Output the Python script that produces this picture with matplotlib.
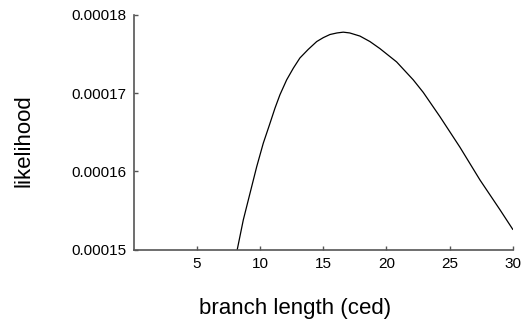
import matplotlib
matplotlib.use("Agg")
import matplotlib.pyplot as plt

# branch length (ced) vs likelihood
branch_len = [8.2, 8.68, 9.21, 9.74, 10.26, 10.74, 11.19, 11.58, 12.11,
              12.64, 13.16, 13.82, 14.49, 15.01, 15.54, 16.1, 16.59, 17.1,
              17.91, 18.7, 19.49, 20.81, 22.13, 22.92, 24.24, 25.82,
              27.41, 28.99, 30.0]
likelihood = [0.000150, 0.0001538, 0.0001572, 0.0001606, 0.0001636,
              0.0001659, 0.0001681, 0.0001698, 0.0001717, 0.0001732,
              0.0001745, 0.0001756, 0.0001766, 0.0001771, 0.0001775,
              0.0001777, 0.0001778, 0.0001777, 0.0001773, 0.0001766,
              0.0001757, 0.0001740, 0.0001717, 0.0001701, 0.0001670,
              0.0001631, 0.0001589, 0.0001551, 0.0001526]

x_ticks = [5, 10, 15, 20, 25, 30]
y_ticks = [0.00015, 0.00016, 0.00017, 0.00018]
y_tick_labels = ["0.00015", "0.00016", "0.00017", "0.00018"]

plt.rcParams["font.family"] = ["Liberation Sans", "DejaVu Sans"]

fig = plt.figure(figsize=(5.29, 3.25), dpi=100)
ax = fig.add_axes([0.2526, 0.232, 0.7166, 0.722])

ax.plot(branch_len, likelihood, color="black", lw=0.9)

ax.set_xlim(0, 30)
ax.set_ylim(0.00015, 0.00018)
ax.set_xticks(x_ticks)
ax.set_xticklabels([str(t) for t in x_ticks])
ax.set_yticks(y_ticks)
ax.set_yticklabels(y_tick_labels)

for s in ["top", "right"]:
    ax.spines[s].set_visible(False)
for s in ["left", "bottom"]:
    ax.spines[s].set_color("#555555")
    ax.spines[s].set_linewidth(1.2)

ax.tick_params(direction="in", length=3, width=1, color="#555555",
               labelsize=11, pad=5)

ax.set_xlabel("branch length (ced)", fontsize=16)
ax.set_ylabel("likelihood", fontsize=16)
ax.xaxis.set_label_coords(0.426, -0.249)
ax.yaxis.set_label_coords(-0.289, 0.463)
ax.xaxis.label.set_va("center")
ax.yaxis.label.set_va("center")

fig.savefig("out.png", dpi=100)
